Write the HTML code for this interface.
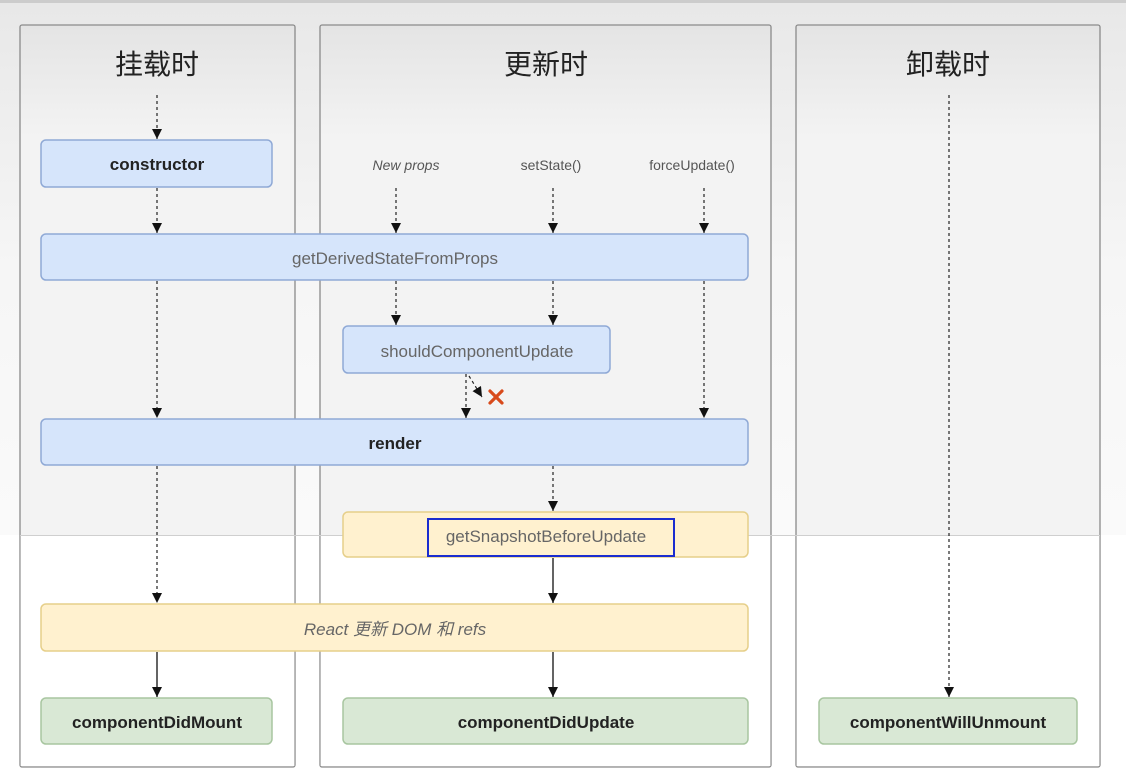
<!DOCTYPE html>
<html><head><meta charset="utf-8"><style>
html,body{margin:0;padding:0;background:#fff;}
svg{display:block;}
text{font-family:"Liberation Sans","Noto Sans CJK SC",sans-serif;}
</style></head><body>
<svg width="1126" height="770" viewBox="0 0 1126 770" xmlns="http://www.w3.org/2000/svg">
<defs>
<linearGradient id="bg" x1="0" y1="0" x2="0" y2="1">
<stop offset="0" stop-color="#e4e4e4"/><stop offset="0.15" stop-color="#f3f3f3"/><stop offset="1" stop-color="#f3f3f3"/>
</linearGradient>
<linearGradient id="outer" x1="0" y1="0" x2="0" y2="1">
<stop offset="0" stop-color="#e8e8e8"/><stop offset="0.5" stop-color="#f6f6f6"/><stop offset="1" stop-color="#fafafa"/>
</linearGradient>
<marker id="ah" markerWidth="10" markerHeight="10" refX="10" refY="5" orient="auto" markerUnits="userSpaceOnUse">
<path d="M0,0 L10,5 L0,10 z" fill="#111"/>
</marker>
</defs>
<rect width="1126" height="770" fill="#fff"/>
<rect x="0" y="0" width="1126" height="3" fill="#ccc"/>
<rect x="0" y="3" width="1126" height="532" fill="url(#outer)"/>
<!-- panels -->
<g stroke="#8a8a8a" stroke-width="1.3">
<rect x="20" y="25" width="275" height="742" fill="url(#bg)" rx="2"/>
<rect x="320" y="25" width="451" height="742" fill="url(#bg)" rx="2"/>
<rect x="796" y="25" width="304" height="742" fill="url(#bg)" rx="2"/>
</g>
<g fill="#fff">
<rect x="20.7" y="536" width="273.6" height="230"/>
<rect x="320.7" y="536" width="449.6" height="230"/>
<rect x="796.7" y="536" width="302.6" height="230"/>
</g>
<line x1="20" y1="535.5" x2="1100" y2="535.5" stroke="#cfcfcf"/>
<rect x="296" y="536" width="23" height="1" fill="#fff"/><rect x="772" y="536" width="23" height="1" fill="#fff"/>
<!-- headers -->
<g font-size="28" fill="#222" text-anchor="middle">
<text x="157" y="74">挂载时</text>
<text x="546" y="74">更新时</text>
<text x="948" y="74">卸载时</text>
</g>
<!-- dashed connectors -->
<g stroke="#222" stroke-width="1.2" stroke-dasharray="3,3" fill="none" marker-end="url(#ah)">
<line x1="157" y1="95" x2="157" y2="139"/>
<line x1="157" y1="188" x2="157" y2="233"/>
<line x1="157" y1="281" x2="157" y2="418"/>
<line x1="157" y1="466" x2="157" y2="603"/>
<line x1="396" y1="188" x2="396" y2="233"/>
<line x1="553" y1="188" x2="553" y2="233"/>
<line x1="704" y1="188" x2="704" y2="233"/>
<line x1="396" y1="281" x2="396" y2="325"/>
<line x1="553" y1="281" x2="553" y2="325"/>
<line x1="704" y1="281" x2="704" y2="418"/>
<line x1="466" y1="374" x2="466" y2="418"/>
<line x1="553" y1="466" x2="553" y2="511"/>
<line x1="949" y1="95" x2="949" y2="697"/>
<line x1="469" y1="376" x2="482" y2="397"/>
</g>
<g stroke="#222" stroke-width="1.4" fill="none" marker-end="url(#ah)">
<line x1="553" y1="558" x2="553" y2="603"/>
<line x1="157" y1="652" x2="157" y2="697"/>
<line x1="553" y1="652" x2="553" y2="697"/>
</g>
<!-- X -->
<g stroke="#d84a1b" stroke-width="3.2" stroke-linecap="round">
<line x1="490" y1="391" x2="502" y2="403"/><line x1="502" y1="391" x2="490" y2="403"/>
</g>
<!-- blue boxes -->
<g fill="#d6e5fb" stroke="#8fa9d6" stroke-width="1.5">
<rect x="41" y="140" width="231" height="47" rx="5"/>
<rect x="41" y="234" width="707" height="46" rx="5"/>
<rect x="343" y="326" width="267" height="47" rx="5"/>
<rect x="41" y="419" width="707" height="46" rx="5"/>
</g>
<g fill="#fff1cf" stroke="#e6cf8a" stroke-width="1.5">
<rect x="343" y="512" width="405" height="45" rx="5"/>
<rect x="41" y="604" width="707" height="47" rx="5"/>
</g>
<g fill="#d9e8d5" stroke="#a8c6a0" stroke-width="1.5">
<rect x="41" y="698" width="231" height="46" rx="5"/>
<rect x="343" y="698" width="405" height="46" rx="5"/>
<rect x="819" y="698" width="258" height="46" rx="5"/>
</g>
<rect x="428" y="519" width="246" height="37" fill="none" stroke="#1a2ccf" stroke-width="2"/>
<!-- labels -->
<g text-anchor="middle" font-size="17">
<text x="157" y="170" font-weight="bold" fill="#222">constructor</text>
<text x="395" y="264" fill="#666">getDerivedStateFromProps</text>
<text x="477" y="357" fill="#666">shouldComponentUpdate</text>
<text x="395" y="449" font-weight="bold" fill="#222">render</text>
<text x="546" y="542" fill="#666">getSnapshotBeforeUpdate</text>
<text x="395" y="635" fill="#666" font-style="italic">React 更新 DOM 和 refs</text>
<text x="157" y="728" font-weight="bold" fill="#222">componentDidMount</text>
<text x="546" y="728" font-weight="bold" fill="#222">componentDidUpdate</text>
<text x="948" y="728" font-weight="bold" fill="#222">componentWillUnmount</text>
</g>
<g text-anchor="middle" font-size="14" fill="#555">
<text x="406" y="170" font-style="italic">New props</text>
<text x="551" y="170">setState()</text>
<text x="692" y="170">forceUpdate()</text>
</g>
</svg>
</body></html>
